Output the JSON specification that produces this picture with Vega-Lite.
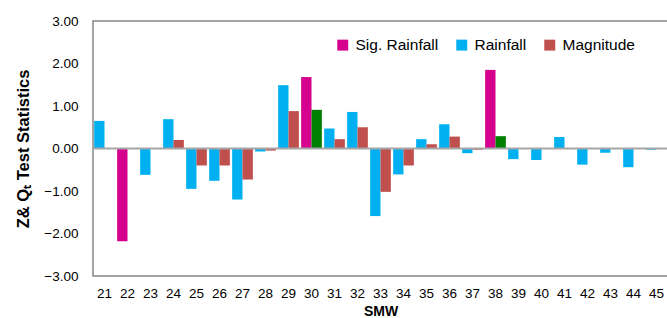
{
  "$schema": "https://vega.github.io/schema/vega-lite/v6.json",
  "autosize": "none",
  "width": 575,
  "height": 255,
  "padding": {"left": 93, "top": 21, "right": 0, "bottom": 42},
  "background": "white",
  "config": {
    "font": "Liberation Sans",
    "view": {"stroke": "#868686", "strokeWidth": 1.5}
  },
  "datasets": {
    "bars": [
      {"smw": "21", "slot": "Rainfall", "type": "Rainfall", "value": 0.65},
      {"smw": "22", "slot": "Rainfall", "type": "Sig. Rainfall", "value": -2.18},
      {"smw": "23", "slot": "Rainfall", "type": "Rainfall", "value": -0.62},
      {"smw": "24", "slot": "Rainfall", "type": "Rainfall", "value": 0.69},
      {"smw": "25", "slot": "Rainfall", "type": "Rainfall", "value": -0.95},
      {"smw": "26", "slot": "Rainfall", "type": "Rainfall", "value": -0.76},
      {"smw": "27", "slot": "Rainfall", "type": "Rainfall", "value": -1.2},
      {"smw": "28", "slot": "Rainfall", "type": "Rainfall", "value": -0.07},
      {"smw": "29", "slot": "Rainfall", "type": "Rainfall", "value": 1.49},
      {"smw": "30", "slot": "Rainfall", "type": "Sig. Rainfall", "value": 1.68},
      {"smw": "31", "slot": "Rainfall", "type": "Rainfall", "value": 0.47},
      {"smw": "32", "slot": "Rainfall", "type": "Rainfall", "value": 0.86},
      {"smw": "33", "slot": "Rainfall", "type": "Rainfall", "value": -1.59},
      {"smw": "34", "slot": "Rainfall", "type": "Rainfall", "value": -0.61},
      {"smw": "35", "slot": "Rainfall", "type": "Rainfall", "value": 0.22},
      {"smw": "36", "slot": "Rainfall", "type": "Rainfall", "value": 0.57},
      {"smw": "37", "slot": "Rainfall", "type": "Rainfall", "value": -0.11},
      {"smw": "38", "slot": "Rainfall", "type": "Sig. Rainfall", "value": 1.85},
      {"smw": "39", "slot": "Rainfall", "type": "Rainfall", "value": -0.25},
      {"smw": "40", "slot": "Rainfall", "type": "Rainfall", "value": -0.27},
      {"smw": "41", "slot": "Rainfall", "type": "Rainfall", "value": 0.27},
      {"smw": "42", "slot": "Rainfall", "type": "Rainfall", "value": -0.38},
      {"smw": "43", "slot": "Rainfall", "type": "Rainfall", "value": -0.1},
      {"smw": "44", "slot": "Rainfall", "type": "Rainfall", "value": -0.44},
      {"smw": "45", "slot": "Rainfall", "type": "Rainfall", "value": -0.03},
      {"smw": "24", "slot": "Magnitude", "type": "Magnitude", "value": 0.2},
      {"smw": "25", "slot": "Magnitude", "type": "Magnitude", "value": -0.4},
      {"smw": "26", "slot": "Magnitude", "type": "Magnitude", "value": -0.4},
      {"smw": "27", "slot": "Magnitude", "type": "Magnitude", "value": -0.73},
      {"smw": "28", "slot": "Magnitude", "type": "Magnitude", "value": -0.05},
      {"smw": "29", "slot": "Magnitude", "type": "Magnitude", "value": 0.88},
      {"smw": "30", "slot": "Magnitude", "type": "Sig. Magnitude", "value": 0.91},
      {"smw": "31", "slot": "Magnitude", "type": "Magnitude", "value": 0.22},
      {"smw": "32", "slot": "Magnitude", "type": "Magnitude", "value": 0.5},
      {"smw": "33", "slot": "Magnitude", "type": "Magnitude", "value": -1.02},
      {"smw": "34", "slot": "Magnitude", "type": "Magnitude", "value": -0.4},
      {"smw": "35", "slot": "Magnitude", "type": "Magnitude", "value": 0.1},
      {"smw": "36", "slot": "Magnitude", "type": "Magnitude", "value": 0.28},
      {"smw": "37", "slot": "Magnitude", "type": "Magnitude", "value": -0.03},
      {"smw": "38", "slot": "Magnitude", "type": "Sig. Magnitude", "value": 0.29}
    ],
    "zero": [{"level": 0}]
  },
  "layer": [
    {
      "data": {"name": "bars"},
      "mark": {"type": "bar"},
      "encoding": {
        "x": {
          "field": "smw", "type": "ordinal",
          "scale": {"paddingInner": 0.1, "paddingOuter": 0.05},
          "axis": {
            "title": "SMW", "labelAngle": 0, "labelFontSize": 13.5, "labelColor": "#000",
            "labelPadding": 10, "domain": false, "ticks": false,
            "titleFontSize": 14, "titleFontWeight": "bold", "titleColor": "#000", "titlePadding": 5
          }
        },
        "xOffset": {"field": "slot", "type": "nominal", "sort": ["Rainfall", "Magnitude"]},
        "y": {
          "field": "value", "type": "quantitative",
          "scale": {"domain": [-3, 3], "nice": false},
          "axis": {
            "title": "Z& Qₜ  Test  Statistics",
            "values": [-3, -2.5, -2, -1.5, -1, -0.5, 0, 0.5, 1, 1.5, 2, 2.5, 3],
            "format": ".2f", "grid": false, "domain": false, "ticks": false,
            "labelFontSize": 13.5, "labelColor": "#000", "labelPadding": 15,
            "titleFontSize": 16.5, "titleFontWeight": "bold", "titleColor": "#000", "titlePadding": 12
          }
        },
        "color": {
          "field": "type", "type": "nominal",
          "scale": {
            "domain": ["Sig. Rainfall", "Rainfall", "Magnitude", "Sig. Magnitude"],
            "range": ["#D6008F", "#00B0F0", "#C0504D", "#008000"]
          },
          "legend": {
            "title": null, "orient": "none", "direction": "horizontal",
            "values": ["Sig. Rainfall", "Rainfall", "Magnitude"],
            "legendX": 242, "legendY": 16,
            "symbolType": "square", "symbolSize": 120, "symbolStrokeWidth": 0,
            "labelFontSize": 15.5, "labelColor": "#000", "labelOffset": 5, "columnPadding": 15
          }
        }
      }
    },
    {
      "data": {"name": "zero"},
      "mark": {"type": "rule", "color": "#A6A6A6", "strokeWidth": 2},
      "encoding": {"y": {"field": "level", "type": "quantitative"}}
    }
  ]
}
